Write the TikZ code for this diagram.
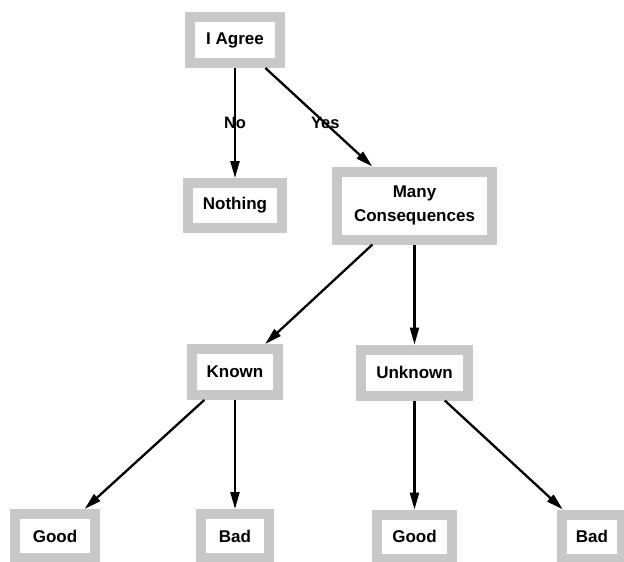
\documentclass[tikz,border=0pt]{standalone}
\usepackage{fontspec}
\setmainfont{Liberation Sans}
\usepackage{xcolor}
\usepackage{tikz}
\usetikzlibrary{positioning,arrows.meta}
\definecolor{boxgray}{RGB}{200,200,200}

\begin{document}
\begin{tikzpicture}[
    box/.style={draw=boxgray, line width=10pt, fill=white, inner sep=0pt, outer sep=5pt,
      minimum height=46pt, align=center, font=\bfseries\fontsize{17}{24}\selectfont},
    link/.style={line width=2.3pt, -{Triangle[length=17pt,width=9pt]}},
    lbl/.style={font=\bfseries\fontsize{16.5}{18}\selectfont}
  ]
    \useasboundingbox (-235pt,40pt) rectangle (389pt,-522pt);

    \node[box, minimum width=90pt] (ag) {I Agree};
    \node[box, below=110pt of ag, minimum width=94pt, minimum height=45pt] (no) {Nothing};
    \node[box, right=45pt of no, minimum width=155pt, minimum height=68pt] (mc) {Many\\Consequences};

    \node[box, below=111pt of no, minimum width=86pt] (kn) {Known};
    \node[box, below=100pt of mc, minimum width=107pt] (un) {Unknown};

    \node[box, below=109pt of kn, minimum width=68pt, minimum height=44pt] (b1) {Bad};
    \node[box, left=96pt of b1, minimum width=80pt, minimum height=44pt] (g1) {Good};
    \node[box, below=109pt of un, minimum width=75pt, minimum height=44pt] (g2) {Good};
    \node[box, right=100pt of g2, minimum width=60pt, minimum height=44pt] (b2) {Bad};

    \draw[link] (ag) -- node[lbl] {No} (no);
    \draw[link] (ag) -- node[lbl, pos=0.56] {Yes} (mc);
    \draw[link] (mc) -- (kn);
    \draw[link] (mc) -- (un);
    \draw[link] (kn) -- (g1);
    \draw[link] (kn) -- (b1);
    \draw[link] (un) -- (g2);
    \draw[link] (un) -- (b2);
\end{tikzpicture}
\end{document}
